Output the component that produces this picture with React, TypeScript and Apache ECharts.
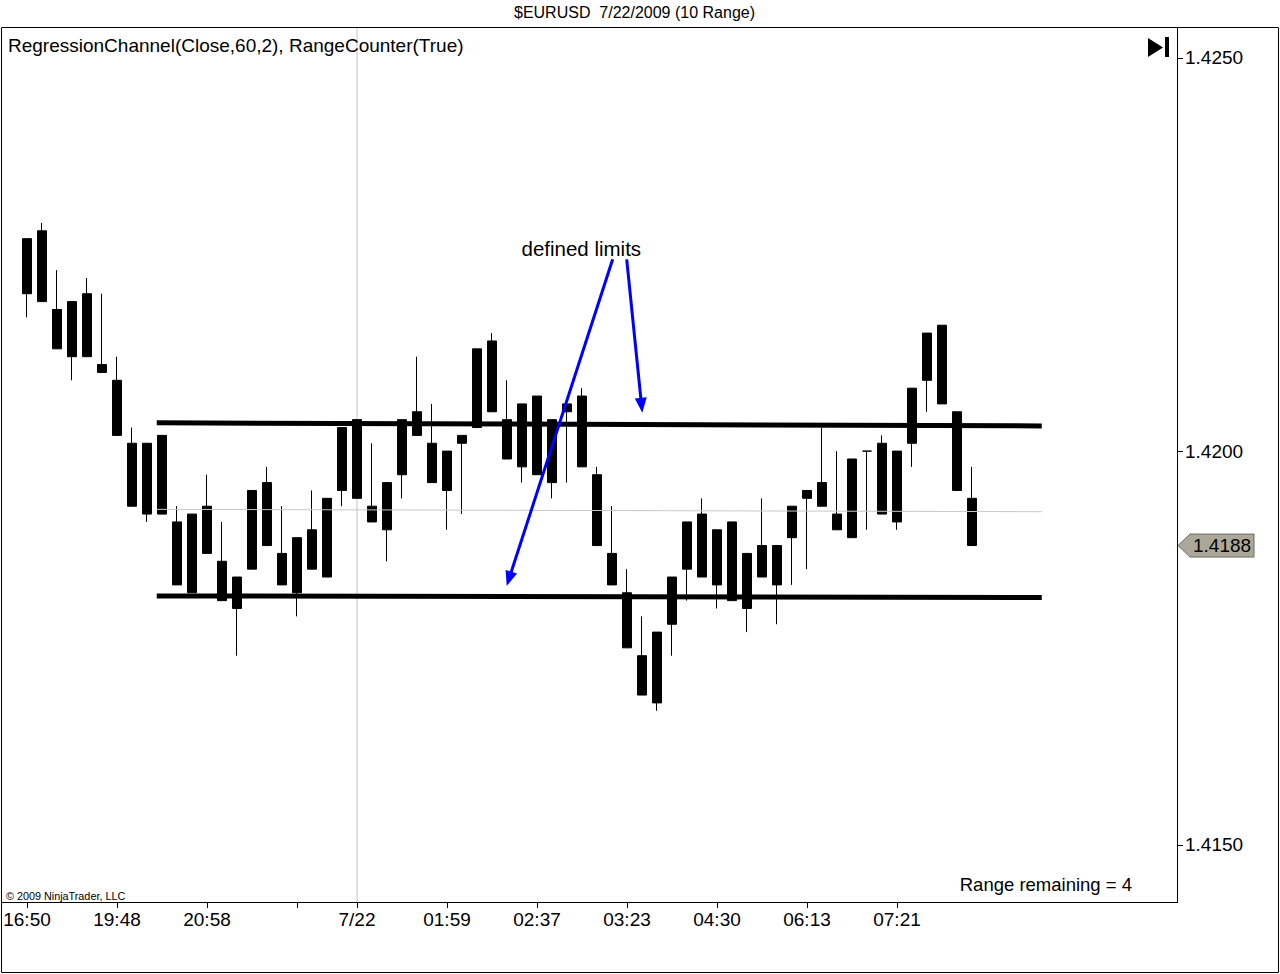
import React, { useEffect, useRef } from "react";
import * as echarts from "echarts";

// ---- Data (10-pip range bars, $EURUSD) ----
const barOpen = [
  1.4220, 1.4228, 1.4218, 1.4212, 1.4220, 1.4211, 1.4209, 1.4201, 1.4192, 1.4202,
  1.4191, 1.4192, 1.4193, 1.4186, 1.4180, 1.4185, 1.4196, 1.4187, 1.4182, 1.4190,
  1.4184, 1.4195, 1.4194, 1.4193, 1.4190, 1.4197, 1.4205, 1.4201, 1.4195, 1.4201,
  1.4203, 1.4214, 1.4204, 1.4198, 1.4207, 1.4196, 1.4205, 1.4207, 1.4197, 1.4187,
  1.4182, 1.4174, 1.4168, 1.4178, 1.4185, 1.4192, 1.4183, 1.4191, 1.4180, 1.4188,
  1.4183, 1.4189, 1.4194, 1.4196, 1.4192, 1.4189, 1.4200, 1.4201, 1.4191, 1.4201,
  1.4209, 1.4216, 1.4205, 1.4194,
];
const barClose = [
  1.4227, 1.4219, 1.4213, 1.4219, 1.4212, 1.4210, 1.4202, 1.4193, 1.4201, 1.4192,
  1.4183, 1.4182, 1.4187, 1.4181, 1.4184, 1.4195, 1.4188, 1.4183, 1.4189, 1.4185,
  1.4194, 1.4203, 1.4204, 1.4191, 1.4196, 1.4204, 1.4202, 1.4196, 1.4200, 1.4202,
  1.4213, 1.4205, 1.4199, 1.4206, 1.4197, 1.4204, 1.4206, 1.4198, 1.4188, 1.4183,
  1.4175, 1.4169, 1.4177, 1.4184, 1.4191, 1.4184, 1.4190, 1.4181, 1.4187, 1.4184,
  1.4188, 1.4193, 1.4195, 1.4193, 1.4190, 1.4199, 1.4200, 1.4192, 1.4200, 1.4208,
  1.4215, 1.4206, 1.4195, 1.4188,
];
const barLow = [
  1.4217, 1.4219, 1.4213, 1.4209, 1.4212, 1.4210, 1.4202, 1.4193, 1.4191, 1.4192,
  1.4183, 1.4182, 1.4187, 1.4181, 1.4174, 1.4185, 1.4188, 1.4183, 1.4179, 1.4185,
  1.4184, 1.4193, 1.4194, 1.4191, 1.4186, 1.4194, 1.4202, 1.4196, 1.4190, 1.4192,
  1.4203, 1.4205, 1.4199, 1.4196, 1.4197, 1.4194, 1.4196, 1.4198, 1.4188, 1.4183,
  1.4175, 1.4169, 1.4167, 1.4174, 1.4181, 1.4184, 1.4180, 1.4181, 1.4177, 1.4184,
  1.4178, 1.4183, 1.4185, 1.4193, 1.4190, 1.4189, 1.4190, 1.4192, 1.4190, 1.4198,
  1.4205, 1.4206, 1.4195, 1.4188,
];
const barHigh = [
  1.4227, 1.4229, 1.4223, 1.4219, 1.4222, 1.4220, 1.4212, 1.4203, 1.4201, 1.4202,
  1.4193, 1.4192, 1.4197, 1.4191, 1.4184, 1.4195, 1.4198, 1.4193, 1.4189, 1.4195,
  1.4194, 1.4203, 1.4204, 1.4201, 1.4196, 1.4204, 1.4212, 1.4206, 1.4200, 1.4202,
  1.4213, 1.4215, 1.4209, 1.4206, 1.4207, 1.4204, 1.4206, 1.4208, 1.4198, 1.4193,
  1.4185, 1.4179, 1.4177, 1.4184, 1.4191, 1.4194, 1.4190, 1.4191, 1.4187, 1.4194,
  1.4188, 1.4193, 1.4195, 1.4203, 1.4200, 1.4199, 1.4200, 1.4202, 1.4200, 1.4208,
  1.4215, 1.4216, 1.4205, 1.4198,
];
const emptySlots = 13;

// x-axis ticks (bar index) and their labels
const tickIndex = [0, 6, 12, 18, 22, 28, 34, 40, 46, 52, 58];
const tickLabels = ["16:50", "19:48", "20:58", "", "7/22", "01:59", "02:37", "03:23", "04:30", "06:13", "07:21"];
const dateSeparatorIndex = 22;

// y-axis
const priceTicks = [1.415, 1.42, 1.425];
const priceMin = 1.41427;
const priceMax = 1.42539;

// Regression channel (bar-index x, price y)
const channelX = [8.65, 67.65];
const channelUpper = [1.42036, 1.42032];
const channelMiddle = [1.41926, 1.41923];
const channelLower = [1.41816, 1.41814];

const FONT = '"Liberation Sans", Arial, Helvetica, sans-serif';

function arrowEls(from: number[], to: number[], color: string) {
  const [x1, y1] = from;
  const [x2, y2] = to;
  const dx = x2 - x1, dy = y2 - y1;
  const L = Math.hypot(dx, dy);
  const ux = dx / L, uy = dy / L;
  const nx = -uy, ny = ux;
  const hl = 15, hw = 6;
  const bx = x2 - ux * hl, by = y2 - uy * hl;
  return [
    {
      type: "line",
      silent: true,
      z: 20,
      shape: { x1, y1, x2: x2 - ux * (hl - 3), y2: y2 - uy * (hl - 3) },
      style: { stroke: color, lineWidth: 3 },
    },
    {
      type: "polygon",
      silent: true,
      z: 20,
      shape: { points: [[x2, y2], [bx + nx * hw, by + ny * hw], [bx - nx * hw, by - ny * hw]] },
      style: { fill: color },
    },
  ];
}

export default function App() {
  const ref = useRef<HTMLDivElement>(null);

  useEffect(() => {
    if (!ref.current) return;
    const chart = echarts.init(ref.current, undefined, { renderer: "svg" });
    const categories = Array.from({ length: barOpen.length + emptySlots }, (_, i) => String(i));
    const candleData = barOpen.map((o, i) => [o, barClose[i], barLow[i], barHigh[i]]);
    const showTick = (i: number) => tickIndex.indexOf(i) >= 0;

    const option: any = {
      animation: false,
      backgroundColor: "#ffffff",
      grid: { left: 19.5, right: 105.5, top: 27, bottom: 72, containLabel: false },
      xAxis: [
        {
          type: "category",
          data: categories,
          boundaryGap: true,
          axisLine: { show: false },
          axisTick: {
            show: true,
            alignWithLabel: true,
            interval: (i: number) => showTick(i),
            length: 6,
            lineStyle: { color: "#000", width: 1 },
          },
          axisLabel: {
            interval: (i: number) => showTick(i),
            formatter: (_v: string, i: number) => {
              const k = tickIndex.indexOf(i);
              return k >= 0 ? tickLabels[k] : "";
            },
            color: "#000",
            fontSize: 19,
            fontFamily: FONT,
            margin: 8,
          },
          splitLine: { show: false },
        },
        { type: "value", min: -0.5, max: categories.length - 0.5, show: false },
      ],
      yAxis: {
        type: "value",
        position: "right",
        min: priceMin,
        max: priceMax,
        offset: 2.5,
        axisLine: { show: false },
        axisTick: { show: false },
        axisLabel: {
          customValues: priceTicks,
          formatter: (v: number) => v.toFixed(4),
          color: "#000",
          fontSize: 19,
          fontFamily: FONT,
          margin: 8,
        },
        splitLine: { show: false },
      },
      series: [
        {
          type: "line",
          xAxisIndex: 1,
          yAxisIndex: 0,
          data: [[dateSeparatorIndex, priceMin], [dateSeparatorIndex, priceMax]],
          symbol: "none",
          silent: true,
          lineStyle: { color: "#c4c4c4", width: 1 },
          z: 1,
        },
        {
          type: "candlestick",
          xAxisIndex: 0,
          yAxisIndex: 0,
          data: candleData,
          barWidth: 10,
          silent: true,
          itemStyle: {
            color: "#000",
            color0: "#000",
            borderColor: "#000",
            borderColor0: "#000",
            borderColorDoji: "#000",
            borderWidth: 1,
          },
          z: 2,
        },
        {
          type: "line",
          xAxisIndex: 1,
          yAxisIndex: 0,
          data: channelX.map((x, i) => [x, channelMiddle[i]]),
          symbol: "none",
          silent: true,
          lineStyle: { color: "#c8c8c8", width: 1 },
          z: 3,
        },
        {
          type: "line",
          xAxisIndex: 1,
          yAxisIndex: 0,
          data: channelX.map((x, i) => [x, channelUpper[i]]),
          symbol: "none",
          silent: true,
          lineStyle: { color: "#000", width: 5 },
          z: 3,
        },
        {
          type: "line",
          xAxisIndex: 1,
          yAxisIndex: 0,
          data: channelX.map((x, i) => [x, channelLower[i]]),
          symbol: "none",
          silent: true,
          lineStyle: { color: "#000", width: 5 },
          z: 3,
        },
      ],
    };
    chart.setOption(option);

    const lastClose = barClose[barClose.length - 1];
    const py = chart.convertToPixel({ yAxisIndex: 0 }, lastClose) as number;
    const blue = "#0000ff";

    const yTickEls = priceTicks.map((p) => {
      const ty = Math.round(chart.convertToPixel({ yAxisIndex: 0 }, p) as number) + 0.5;
      return {
        type: "line",
        silent: true,
        z: 10,
        shape: { x1: 1177.5, y1: ty, x2: 1183, y2: ty },
        style: { stroke: "#000", lineWidth: 1 },
      };
    });

    const graphics: any[] = [
      {
        type: "rect",
        silent: true,
        z: 10,
        shape: { x: 1.5, y: 27.5, width: 1277, height: 945 },
        style: { fill: "none", stroke: "#000", lineWidth: 1 },
      },
      {
        type: "line",
        silent: true,
        z: 10,
        shape: { x1: 1, y1: 902.5, x2: 1178, y2: 902.5 },
        style: { stroke: "#000", lineWidth: 1 },
      },
      {
        type: "line",
        silent: true,
        z: 10,
        shape: { x1: 1177.5, y1: 27, x2: 1177.5, y2: 903 },
        style: { stroke: "#000", lineWidth: 1 },
      },
      ...yTickEls,
      {
        type: "text",
        silent: true,
        z: 10,
        x: 634.5,
        y: 12.5,
        style: { text: "$EURUSD  7/22/2009 (10 Range)", fill: "#000", fontSize: 16, fontFamily: FONT, align: "center", verticalAlign: "middle" },
      },
      {
        type: "text",
        silent: true,
        z: 10,
        x: 8,
        y: 45,
        style: { text: "RegressionChannel(Close,60,2), RangeCounter(True)", fill: "#000", fontSize: 19, fontFamily: FONT, align: "left", verticalAlign: "middle" },
      },
      {
        type: "text",
        silent: true,
        z: 10,
        x: 581.3,
        y: 248.5,
        style: { text: "defined limits", fill: "#000", fontSize: 20.5, fontFamily: FONT, align: "center", verticalAlign: "middle" },
      },
      {
        type: "text",
        silent: true,
        z: 10,
        x: 1132,
        y: 884,
        style: { text: "Range remaining = 4", fill: "#000", fontSize: 18.5, fontFamily: FONT, align: "right", verticalAlign: "middle" },
      },
      {
        type: "text",
        silent: true,
        z: 10,
        x: 6,
        y: 896,
        style: { text: "© 2009 NinjaTrader, LLC", fill: "#000", fontSize: 10.8, fontFamily: FONT, align: "left", verticalAlign: "middle" },
      },
      {
        type: "polygon",
        silent: true,
        z: 10,
        shape: { points: [[1148, 38], [1148, 57], [1163, 47.5]] },
        style: { fill: "#000" },
      },
      {
        type: "rect",
        silent: true,
        z: 10,
        shape: { x: 1165, y: 37, width: 4, height: 20 },
        style: { fill: "#000" },
      },
      {
        type: "polygon",
        silent: true,
        z: 10,
        shape: {
          points: [
            [1178, py],
            [1190, py - 11.5],
            [1254, py - 11.5],
            [1254, py + 11.5],
            [1190, py + 11.5],
          ],
        },
        style: { fill: "#aca899", stroke: "#6f6c62", lineWidth: 1 },
      },
      {
        type: "text",
        silent: true,
        z: 11,
        x: 1193,
        y: py,
        style: { text: lastClose.toFixed(4), fill: "#000", fontSize: 19, fontFamily: FONT, align: "left", verticalAlign: "middle" },
      },
      ...arrowEls([612.7, 259.3], [506.7, 586], blue),
      ...arrowEls([626.7, 259.3], [642.3, 412.7], blue),
    ];
    chart.setOption({ graphic: graphics });

    return () => {
      chart.dispose();
    };
  }, []);

  return (
    <div
      ref={ref}
      style={{ position: "fixed", left: 0, top: 0, width: 1280, height: 974, background: "#fff" }}
    />
  );
}
